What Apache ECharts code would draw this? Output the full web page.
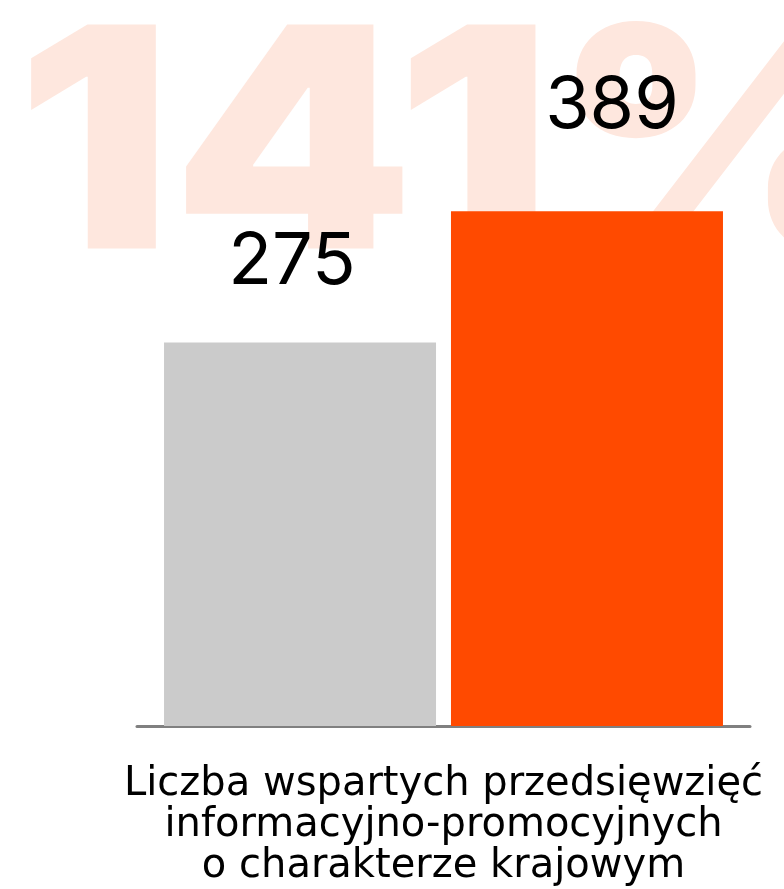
<!DOCTYPE html>
<html>
<head>
<meta charset="utf-8">
<script src="https://cdn.jsdelivr.net/npm/echarts@6/dist/echarts.min.js"></script>
<style>
  html, body { margin: 0; padding: 0; background: #fff; }
  #chart { width: 784px; height: 889px; }
</style>
</head>
<body>
<div id="chart"></div>
<script>
// dane
const categories = ['Liczba wspartych przedsięwzięć\ninformacyjno-promocyjnych\no charakterze krajowym']
const seriesNames = ['Okres poprzedni', 'Okres bieżący']
const previousValues = [275]
const currentValues = [389]

// wzrost w procentach (389 / 275)
const growthText = Math.round(currentValues[0] / previousValues[0] * 100) + '%'

function drawChart () {
  const chart = echarts.init(document.getElementById('chart'))

  const option = {
    animation: false,
    backgroundColor: '#fff',
    graphic: [
      {
        type: 'text',
        x: 16,
        y: 2,
        scaleX: 1.12,
        z: -10,
        silent: true,
        style: {
          text: growthText,
          font: '900 308px Inter',
          fill: '#fee7de'
        }
      }
    ],
    grid: {
      left: 137,
      right: 34,
      top: 116,
      bottom: 163
    },
    xAxis: {
      type: 'category',
      data: categories,
      axisLine: { lineStyle: { color: '#808080', width: 3 } },
      axisTick: { show: false },
      axisLabel: {
        color: '#000',
        fontFamily: 'DejaVu Sans',
        fontSize: 40,
        lineHeight: 41,
        margin: 38
      }
    },
    yAxis: {
      type: 'log',
      min: 100,
      max: 500,
      show: false,
      splitLine: { show: false }
    },
    series: [
      {
        name: seriesNames[0],
        type: 'bar',
        data: previousValues,
        barWidth: 272,
        barGap: '5.5%',
        itemStyle: { color: '#cbcbcb' },
        label: {
          show: true,
          position: 'top',
          distance: 44,
          offset: [-8, 0],
          color: '#000',
          fontFamily: 'Inter',
          fontSize: 72
        }
      },
      {
        name: seriesNames[1],
        type: 'bar',
        data: currentValues,
        barWidth: 272,
        barGap: '5.5%',
        itemStyle: { color: '#ff4a00' },
        label: {
          show: true,
          position: 'top',
          distance: 69,
          offset: [25, 0],
          color: '#000',
          fontFamily: 'Inter',
          fontSize: 72
        }
      }
    ]
  }

  chart.setOption(option)
}

// czekamy na fonty, żeby canvas nie rysował zastępczych
Promise.all([
  document.fonts.load('900 308px Inter'),
  document.fonts.load('72px Inter'),
  document.fonts.load('40px "DejaVu Sans"')
]).then(drawChart, drawChart)
</script>
</body>
</html>
